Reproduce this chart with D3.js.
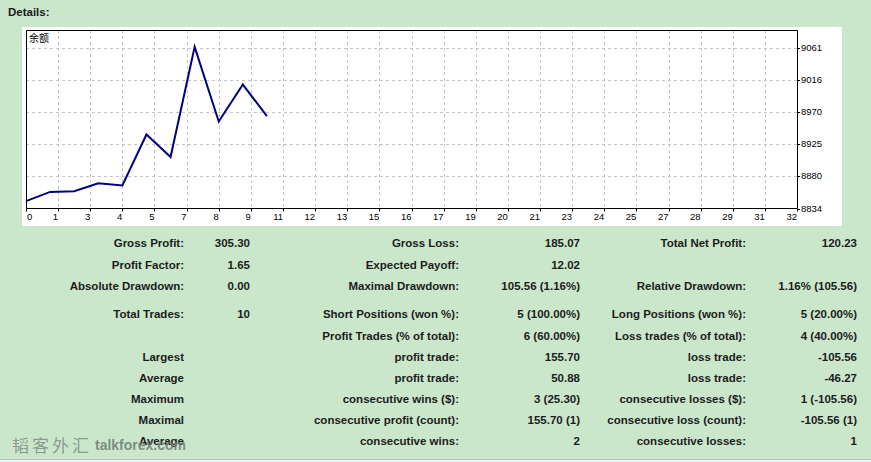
<!DOCTYPE html>
<html><head><meta charset="utf-8">
<script src="https://cdn.jsdelivr.net/npm/d3@7/dist/d3.min.js"></script>
<style>
html,body{margin:0;padding:0;background:#cbe7cb;}
svg{display:block;}
</style></head>
<body>
<script>
// ---- data ----
const trades = [0,1,2,3,4,5,6,7,8,9,10];
const balance = [8844.5, 8857.5, 8858.5, 8869.8, 8866.7, 8938.7, 8906.9, 9062.6, 8957.0, 9009.3, 8964.7];
const xTickLabels = ["0","1","3","4","5","7","8","9","11","12","13","15","16","17","19","20","21","23","24","25","27","28","29","31","32"];
const yTickLabels = ["8834","8880","8925","8970","9016","9061"];
const seriesName = "余额";

const col1Labels = ["Gross Profit:","Profit Factor:","Absolute Drawdown:","Total Trades:","","Largest","Average","Maximum","Maximal","Average"];
const col1Values = ["305.30","1.65","0.00","10","","","","","",""];
const col2Labels = ["Gross Loss:","Expected Payoff:","Maximal Drawdown:","Short Positions (won %):","Profit Trades (% of total):","profit trade:","profit trade:","consecutive wins ($):","consecutive profit (count):","consecutive wins:"];
const col2Values = ["185.07","12.02","105.56 (1.16%)","5 (100.00%)","6 (60.00%)","155.70","50.88","3 (25.30)","155.70 (1)","2"];
const col3Labels = ["Total Net Profit:","","Relative Drawdown:","Long Positions (won %):","Loss trades (% of total):","loss trade:","loss trade:","consecutive losses ($):","consecutive loss (count):","consecutive losses:"];
const col3Values = ["120.23","","1.16% (105.56)","5 (20.00%)","4 (40.00%)","-105.56","-46.27","1 (-105.56)","-105.56 (1)","1"];
const rowY = [243, 264.5, 285.5, 314, 335.5, 356.5, 378, 399, 420, 441];

(function(){
const W = 871, H = 462;
const svg = d3.select("body").append("svg").attr("width", W).attr("height", H);
const font = "'Liberation Sans', Arial, sans-serif";

svg.append("rect").attr("x",0).attr("y",0).attr("width",W).attr("height",H).attr("fill","#cbe7cb");
svg.append("rect").attr("x",0).attr("y",459).attr("width",W).attr("height",3).attr("fill","#eef3f2");
svg.append("line").attr("x1",0).attr("x2",W).attr("y1",459.5).attr("y2",459.5).attr("stroke","#a8c6cf");

svg.append("text").attr("x",8).attr("y",16).text("Details:")
  .attr("font-family",font).attr("font-weight","bold").attr("font-size",11.5).attr("fill","#1a1a1a");

svg.append("rect").attr("x",22).attr("y",27).attr("width",820).attr("height",199).attr("fill","#ffffff");

const pL = 26, pR = 797, pT = 30, pB = 208.5;
const x = d3.scaleLinear().domain([0,32]).range([pL,pR]);
const yVals = yTickLabels.map(Number);
const y = d3.scaleLinear().domain([yVals[0], yVals[yVals.length-1]]).range([pB, 48]);

const xTickVals = xTickLabels.map((d,i)=> i*32/(xTickLabels.length-1));

const g = svg.append("g");
g.selectAll("line.vg").data(xTickVals.slice(1)).join("line")
  .attr("x1",d=>Math.round(x(d))+0.5).attr("x2",d=>Math.round(x(d))+0.5)
  .attr("y1",pT).attr("y2",pB)
  .attr("stroke","#c4c4c4").attr("stroke-dasharray","3,3");
g.selectAll("line.hg").data(yVals.slice(1)).join("line")
  .attr("x1",pL).attr("x2",pR)
  .attr("y1",d=>Math.round(y(d))+0.5).attr("y2",d=>Math.round(y(d))+0.5)
  .attr("stroke","#c4c4c4").attr("stroke-dasharray","3,3");

g.append("path").attr("d",`M${pL+0.5},${pT+0.5}H${pR+0.5}V${pB}H${pL+0.5}Z`)
  .attr("fill","none").attr("stroke","#000").attr("stroke-width",1);

g.selectAll("line.xt").data(xTickVals).join("line")
  .attr("x1",d=>Math.round(x(d))+0.5).attr("x2",d=>Math.round(x(d))+0.5)
  .attr("y1",pB).attr("y2",pB+3).attr("stroke","#000");
g.selectAll("text.xl").data(xTickLabels).join("text")
  .attr("x",(d,i)=> i===0 ? x(xTickVals[i])+1 : x(xTickVals[i]))
  .attr("y",pB+11)
  .attr("text-anchor",(d,i)=> i===0 ? "start" : "end")
  .attr("font-family",font).attr("font-size",9.5).attr("fill","#000")
  .text(d=>d);

g.selectAll("line.yt").data(yVals).join("line")
  .attr("x1",pR).attr("x2",pR+3)
  .attr("y1",d=>Math.round(y(d))+0.5).attr("y2",d=>Math.round(y(d))+0.5).attr("stroke","#000");
g.selectAll("text.yl").data(yTickLabels).join("text")
  .attr("x",pR+4).attr("y",d=>y(+d)+3)
  .attr("font-family",font).attr("font-size",9.5).attr("fill","#000")
  .text(d=>d);

g.append("text").attr("x",29).attr("y",42).text(seriesName)
  .attr("font-family","'Noto Sans CJK SC', sans-serif").attr("font-size",10).attr("fill","#000");

const line = d3.line().x((d,i)=>x(trades[i])).y(d=>y(d));
g.append("path").datum(balance).attr("d",line)
  .attr("fill","none").attr("stroke","#000080").attr("stroke-width",2).attr("stroke-linejoin","miter");

function col(labels, xr){
  svg.append("g").selectAll("text").data(labels).join("text")
    .attr("x",xr).attr("y",(d,i)=>rowY[i]+4)
    .attr("text-anchor","end")
    .attr("font-family",font).attr("font-weight","bold").attr("font-size",11.5).attr("fill","#1c1c1c")
    .text(d=>d);
}
col(col1Labels,184);
col(col1Values,250);
col(col2Labels,459);
col(col2Values,580);
col(col3Labels,746);
col(col3Values,857);

svg.append("text").attr("x",12).attr("y",452).text("韬客外汇")
  .attr("font-family","'Noto Sans CJK SC', serif").attr("font-size",17).attr("letter-spacing",3)
  .attr("fill","#7f8c83").attr("fill-opacity",0.85);
svg.append("text").attr("x",95).attr("y",450).text("talkforex.com")
  .attr("font-family",font).attr("font-weight","bold").attr("font-size",14)
  .attr("fill","#707a74").attr("fill-opacity",0.85);
})();
</script>
</body></html>
